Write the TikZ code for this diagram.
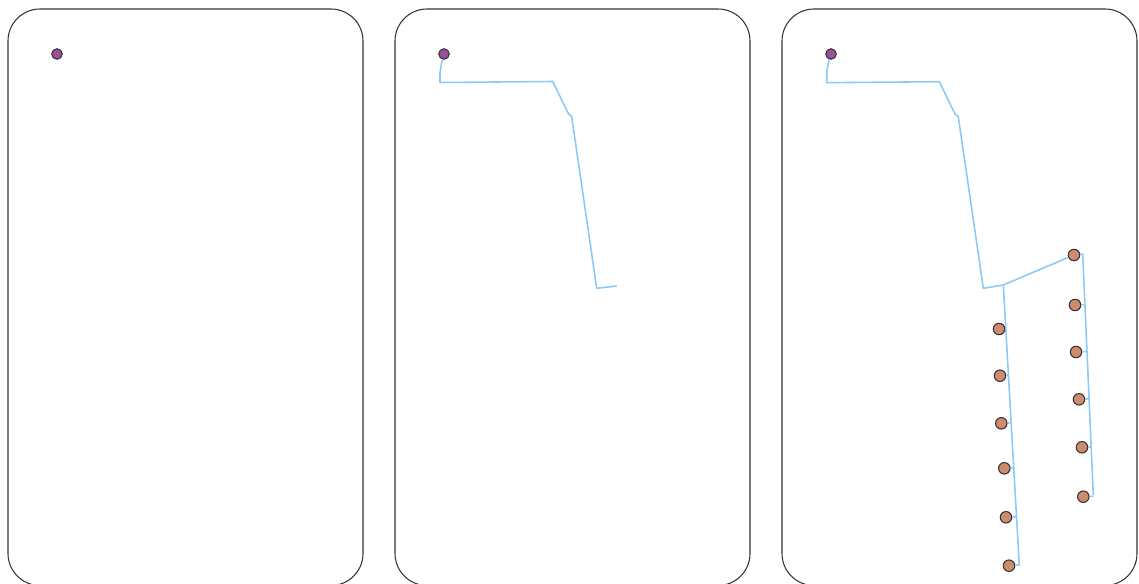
\documentclass[tikz,border=0pt]{standalone}
\usepackage{tikz}
\usetikzlibrary{calc}
\definecolor{pipeblue}{RGB}{141,201,247}
\definecolor{srcpurple}{RGB}{155,79,150}
\definecolor{sinkbrown}{RGB}{205,139,111}
\tikzset{
  panel/.style={draw=black!80,line width=0.6pt,rounded corners=0.64cm},
  pipe/.style={pipeblue,line width=0.9pt,line join=round},
  src/.style={circle,draw=black!80,fill=srcpurple,line width=0.6pt,minimum size=0.21cm,inner sep=0pt},
  sink/.style={circle,draw=black!80,fill=sinkbrown,line width=0.6pt,minimum size=0.23cm,inner sep=0pt}
}

\begin{document}
\begin{tikzpicture}[x=0.02cm,y=-0.02cm]
    \useasboundingbox (0,0) rectangle (1139,584);
    \foreach \dx in {0,387,774} \draw[panel] (8+\dx,9) rectangle (363+\dx,585.5);
    % sources
    \node[src] (s1) at (57,54) {};
    \node[src] (s2) at (444,54) {};
    \node[src] (s3) at (831,54) {};
    % second panel: pipe so far
    \draw[pipe] (s2) -- (441.7,62) -- (440,73) -- (440,82.5) -- (552.7,81.5) -- (568.3,113.5)
        -- (571.7,116.7) -- (596.7,288.3) -- (616.7,286);
    % third panel: full network
    \coordinate (j) at (1003.3,285);
    \coordinate (lb) at (1019.3,565.7);
    \coordinate (rt) at (1082.7,254);
    \coordinate (rb) at (1093.3,495);
    \node[sink] (r1) at (1074,255) {};
    \draw[pipe] (s3) -- (829,60) -- (826.7,71.7) -- (826.7,82.7) -- (939.3,81.7) -- (955,114)
        -- (958.3,116.7) -- (983.3,288.3) -- (j) -- (r1);
    \draw[pipe] (j) -- (lb);
    \draw[pipe] (rt) -- (rb);
    \draw[pipe] (r1) -- (rt);
    \foreach \x/\y [count=\i] in {999/329,1000/375.7,1001.3/423.3,1004.3/468.3,1006/517.3,1009/565.7} {
        \node[sink] (l\i) at (\x,\y) {};
        \draw[pipe] (l\i) -- ($(j)!(l\i)!(lb)$);
    }
    \foreach \x/\y [count=\i from 2] in {1075/305,1076/352,1079/399.3,1082/447.3,1083.3/496.7} {
        \node[sink] (r\i) at (\x,\y) {};
        \draw[pipe] (r\i) -- ($(rt)!(r\i)!(rb)$);
    }
\end{tikzpicture}
\end{document}
